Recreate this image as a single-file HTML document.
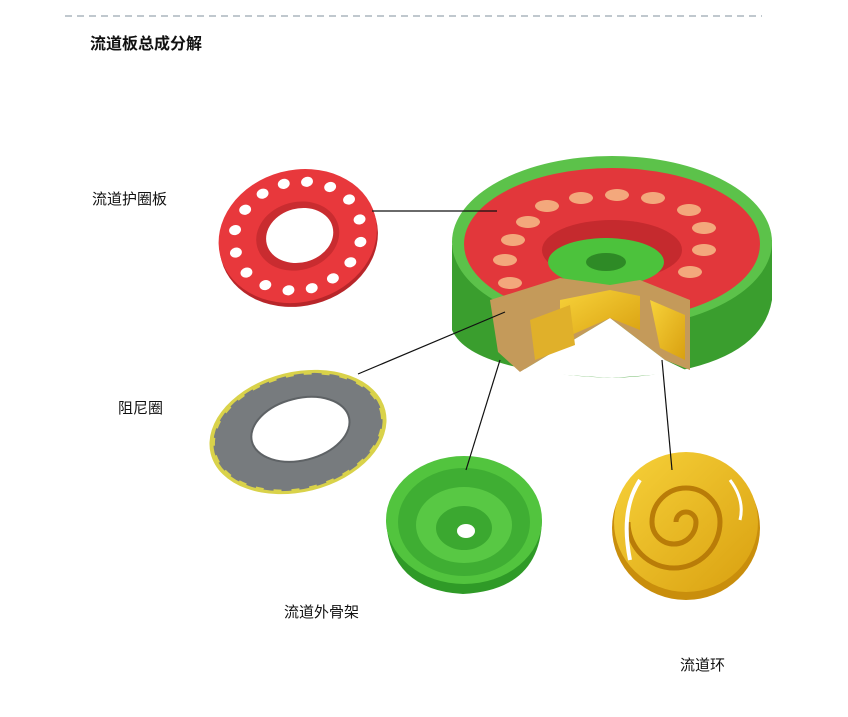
<!DOCTYPE html>
<html><head><meta charset="utf-8"><style>
body{margin:0;background:#fff;}
svg{display:block}
text{font-family:"Liberation Sans","Noto Sans CJK SC",sans-serif;fill:#111;}
</style></head><body>
<svg width="848" height="717" viewBox="0 0 848 717">
<defs>
<radialGradient id="gr" cx="50%" cy="50%" r="50%"><stop offset="0.6" stop-color="#3db83d"/><stop offset="1" stop-color="#5fd14a"/></radialGradient>
<linearGradient id="yl" x1="0" y1="0" x2="1" y2="1"><stop offset="0" stop-color="#f7d23a"/><stop offset="1" stop-color="#d9a010"/></linearGradient>
</defs>
<line x1="65" y1="16" x2="762" y2="16" stroke="#9aa6b0" stroke-width="1.2" stroke-dasharray="7,5"/>
<text x="90" y="49" font-size="16" font-weight="bold">流道板总成分解</text>

<!-- left red ring -->
<g transform="rotate(-15 298 237)">
<ellipse cx="298" cy="240" rx="80" ry="66" fill="#b8262a"/>
<ellipse cx="298" cy="236" rx="80" ry="66" fill="#e8383c"/>
<ellipse cx="298" cy="236" rx="42" ry="34" fill="#c92c30"/>
<ellipse cx="300" cy="236" rx="34" ry="27" fill="#fff"/>
<g fill="#fff">
<ellipse cx="298" cy="182" rx="6" ry="5"/><ellipse cx="321" cy="186" rx="6" ry="5"/><ellipse cx="342" cy="197" rx="6" ry="5"/><ellipse cx="357" cy="214" rx="6" ry="5"/><ellipse cx="362" cy="236" rx="6" ry="5"/><ellipse cx="357" cy="258" rx="6" ry="5"/><ellipse cx="342" cy="275" rx="6" ry="5"/><ellipse cx="321" cy="286" rx="6" ry="5"/><ellipse cx="298" cy="290" rx="6" ry="5"/><ellipse cx="275" cy="286" rx="6" ry="5"/><ellipse cx="254" cy="275" rx="6" ry="5"/><ellipse cx="239" cy="258" rx="6" ry="5"/><ellipse cx="234" cy="236" rx="6" ry="5"/><ellipse cx="239" cy="214" rx="6" ry="5"/><ellipse cx="254" cy="197" rx="6" ry="5"/><ellipse cx="275" cy="186" rx="6" ry="5"/>
</g></g>

<!-- gray ring -->
<g transform="rotate(-14 298 432)">
<ellipse cx="298" cy="432" rx="90" ry="60" fill="#d9d24a"/>
<ellipse cx="298" cy="432" rx="86" ry="57" fill="#777b7e" stroke="#d9d24a" stroke-width="3" stroke-dasharray="8,10"/>
<ellipse cx="301" cy="430" rx="50" ry="31" fill="#fff" stroke="#5e6265" stroke-width="2"/>
</g>

<!-- main assembly -->
<path d="M452,245 L452,330 Q470,372 612,378 Q760,372 772,300 L772,240 Z" fill="#3a9e2e"/>
<ellipse cx="612" cy="242" rx="160" ry="86" fill="#5cc24a"/>
<ellipse cx="612" cy="244" rx="148" ry="76" fill="#e2373b"/>
<ellipse cx="612" cy="250" rx="70" ry="30" fill="#c52a2e"/>
<ellipse cx="606" cy="262" rx="58" ry="24" fill="#4cc23c"/>
<ellipse cx="606" cy="262" rx="20" ry="9" fill="#2e8a26"/>
<g fill="#f3a87c">
<ellipse cx="547" cy="206" rx="12" ry="6"/><ellipse cx="581" cy="198" rx="12" ry="6"/><ellipse cx="617" cy="195" rx="12" ry="6"/><ellipse cx="653" cy="198" rx="12" ry="6"/><ellipse cx="689" cy="210" rx="12" ry="6"/><ellipse cx="704" cy="228" rx="12" ry="6"/><ellipse cx="704" cy="250" rx="12" ry="6"/><ellipse cx="690" cy="272" rx="12" ry="6"/><ellipse cx="528" cy="222" rx="12" ry="6"/><ellipse cx="513" cy="240" rx="12" ry="6"/><ellipse cx="505" cy="260" rx="12" ry="6"/><ellipse cx="510" cy="283" rx="12" ry="6"/>
</g>
<!-- cutaway wedge -->
<path d="M490,300 L560,278 L610,285 L640,280 L690,300 L690,370 L665,360 L610,318 L520,372 L498,352 Z" fill="#c49a5a"/>
<path d="M520,372 L610,318 L665,360 L690,372 L612,378 Z" fill="#fff"/>
<path d="M560,300 L610,290 L640,296 L640,330 L610,318 L560,340 Z" fill="url(#yl)"/>
<path d="M650,300 L685,315 L685,360 L660,348 Z" fill="url(#yl)"/>
<path d="M530,320 L570,305 L575,345 L535,360 Z" fill="#e0b02a"/>

<!-- green skeleton -->
<path d="M386,520 Q390,590 463,594 Q540,590 542,520 Z" fill="#2f9a27"/>
<ellipse cx="464" cy="520" rx="78" ry="64" fill="#52c43e"/>
<ellipse cx="464" cy="522" rx="66" ry="54" fill="#3fae33"/>
<ellipse cx="464" cy="525" rx="48" ry="38" fill="#58c844"/>
<ellipse cx="464" cy="528" rx="28" ry="22" fill="#3ba830"/>
<ellipse cx="466" cy="531" rx="9" ry="7" fill="#fff"/>

<!-- yellow spiral ring -->
<ellipse cx="686" cy="528" rx="74" ry="72" fill="#c98e0c"/>
<ellipse cx="686" cy="522" rx="72" ry="70" fill="url(#yl)"/>
<path d="M686,522 m-10,0 a10,10 0 1,1 20,0 a22,22 0 1,1 -44,0 a34,34 0 1,1 68,0 a46,46 0 1,1 -92,0" fill="none" stroke="#b97c08" stroke-width="5"/>
<path d="M640,480 Q620,510 630,560" stroke="#fff" stroke-width="4" fill="none"/>
<path d="M730,480 Q745,500 740,520" stroke="#fff" stroke-width="3" fill="none"/>

<!-- leader lines -->
<g stroke="#111" stroke-width="1.2">
<line x1="372" y1="211" x2="497" y2="211"/>
<line x1="358" y1="374" x2="505" y2="312"/>
<line x1="466" y1="470" x2="500" y2="360"/>
<line x1="672" y1="470" x2="662" y2="360"/>
</g>

<text x="92" y="204" font-size="15">流道护圈板</text>
<text x="118" y="413" font-size="15">阻尼圈</text>
<text x="284" y="617" font-size="15">流道外骨架</text>
<text x="680" y="670" font-size="15">流道环</text>
</svg>
</body></html>
